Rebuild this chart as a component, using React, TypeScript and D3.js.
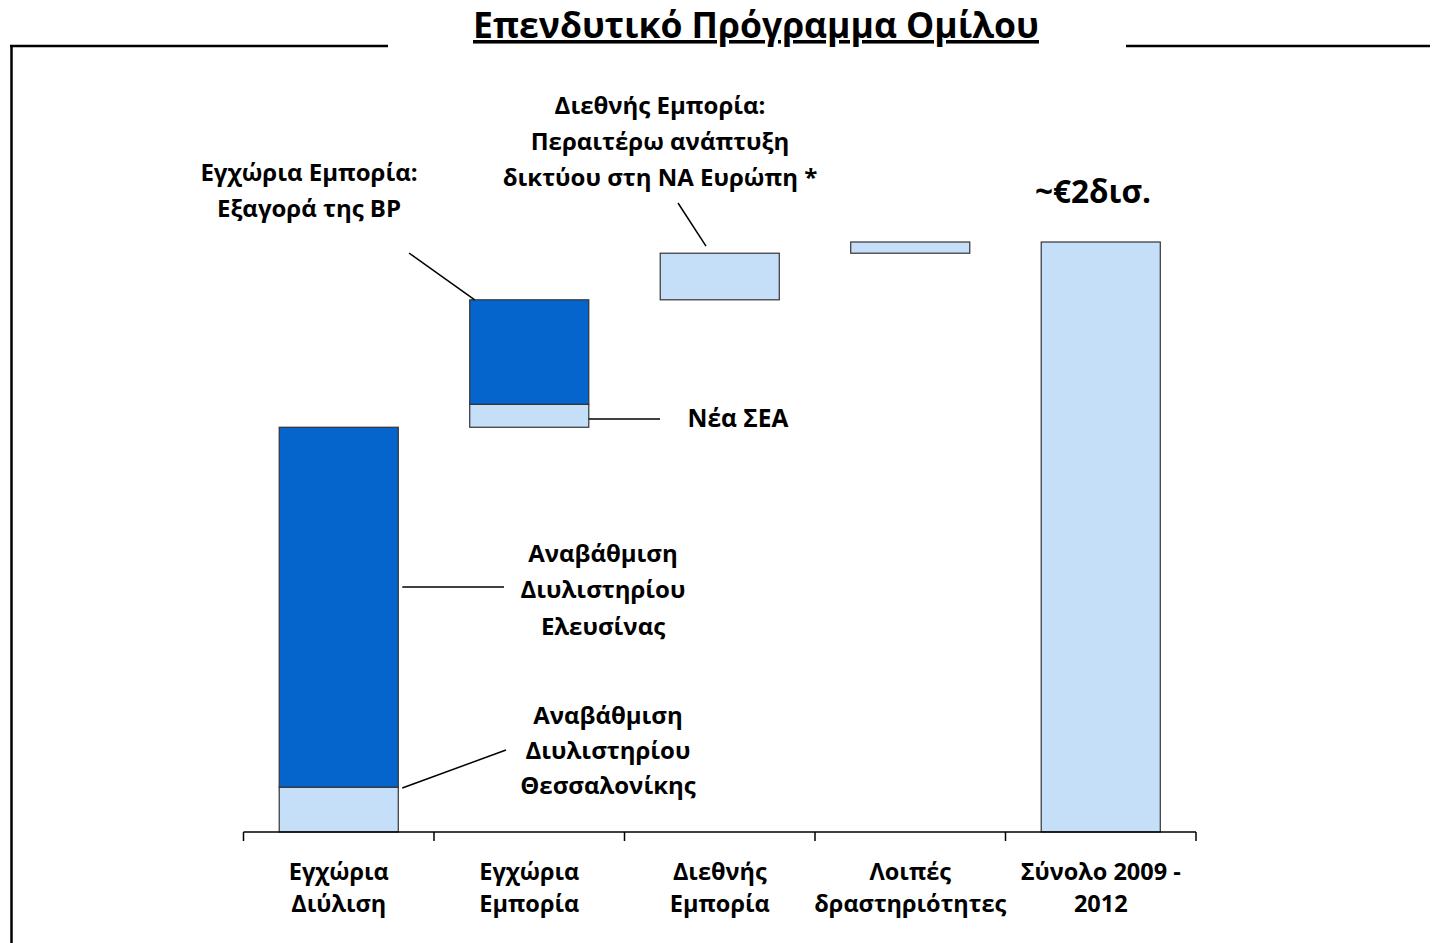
import React, { useEffect, useRef } from 'react';
import * as d3 from 'd3';

// categories on the x axis (each label split into its two lines)
const categories = ['Εγχώρια Διύλιση', 'Εγχώρια Εμπορία', 'Διεθνής Εμπορία', 'Λοιπές δραστηριότητες', 'Σύνολο 2009 - 2012'];
const categoryLines = [
  ['Εγχώρια', 'Διύλιση'],
  ['Εγχώρια', 'Εμπορία'],
  ['Διεθνής', 'Εμπορία'],
  ['Λοιπές', 'δραστηριότητες'],
  ['Σύνολο 2009 -', '2012'],
];

// investment (million €), bottom light segment and top dark segment of each step
const lightValues = [152, 78, 158, 38];
const darkValues = [1220, 354, 0, 0];

const titleText = 'Επενδυτικό Πρόγραμμα Ομίλου';
const totalText = '~€2δισ.';
const noteBP = ['Εγχώρια Εμπορία:', 'Εξαγορά της BP'];
const noteIntl = ['Διεθνής Εμπορία:', 'Περαιτέρω ανάπτυξη', 'δικτύου στη ΝΑ Ευρώπη *'];
const noteSEA = ['Νέα ΣΕΑ'];
const noteElef = ['Αναβάθμιση', 'Διυλιστηρίου', 'Ελευσίνας'];
const noteThess = ['Αναβάθμιση', 'Διυλιστηρίου', 'Θεσσαλονίκης'];

const LIGHT = '#c6dff9';
const DARK = '#0565cd';
const FONT = "'Open Sans', sans-serif";

const App = () => {
  const ref = useRef<SVGSVGElement>(null);

  useEffect(() => {
    const svg = d3.select(ref.current);
    svg.selectAll('*').remove();
    draw(svg);
  }, []);

  return (
    <svg
      ref={ref}
      width={1443}
      height={943}
      style={{ position: 'absolute', left: 0, top: 0, background: '#fff' }}
    />
  );
};

const draw = (svg: any) => {
  const total = d3.sum(lightValues) + d3.sum(darkValues);

  const x = d3.scaleBand().domain(categories).range([243.5, 1196]).padding(0);
  const barW = x.bandwidth() * 0.625;
  const y = d3.scaleLinear().domain([0, 2000]).range([832, 242]);

  // build waterfall segments
  const segs: any[] = [];
  let base = 0;
  lightValues.forEach((lv, i) => {
    segs.push({ cat: categories[i], y0: base, y1: base + lv, fill: LIGHT });
    base += lv;
    if (darkValues[i] > 0) {
      segs.push({ cat: categories[i], y0: base, y1: base + darkValues[i], fill: DARK });
      base += darkValues[i];
    }
  });
  segs.push({ cat: categories[4], y0: 0, y1: total, fill: LIGHT });

  const g = svg.append('g');

  // frame lines
  g.append('line').attr('x1', 10).attr('x2', 388).attr('y1', 46).attr('y2', 46).attr('stroke', '#000').attr('stroke-width', 2.5);
  g.append('line').attr('x1', 1126).attr('x2', 1430).attr('y1', 46).attr('y2', 46).attr('stroke', '#000').attr('stroke-width', 2.5);
  g.append('line').attr('x1', 11.5).attr('x2', 11.5).attr('y1', 45).attr('y2', 943).attr('stroke', '#000').attr('stroke-width', 2.5);

  // title
  g.append('text')
    .attr('x', 756)
    .attr('y', 38)
    .attr('text-anchor', 'middle')
    .attr('font-family', FONT)
    .attr('font-weight', 700)
    .attr('font-size', 35.5)
    .attr('text-decoration', 'underline')
    .text(titleText);

  // bars
  g.selectAll('rect.seg')
    .data(segs)
    .enter()
    .append('rect')
    .attr('class', 'seg')
    .attr('x', (d: any) => (x(d.cat) as number) + (x.bandwidth() - barW) / 2)
    .attr('width', barW)
    .attr('y', (d: any) => y(d.y1))
    .attr('height', (d: any) => y(d.y0) - y(d.y1))
    .attr('fill', (d: any) => d.fill)
    .attr('stroke', '#333')
    .attr('stroke-width', 1.2);

  // x axis
  const axis = g.append('g').attr('transform', 'translate(0,832)');
  axis.append('line').attr('x1', 243.5).attr('x2', 1196).attr('stroke', '#000').attr('stroke-width', 1.5);
  const tickX = categories.map((c) => x(c) as number).concat([1196]);
  axis.selectAll('line.tick')
    .data(tickX)
    .enter()
    .append('line')
    .attr('class', 'tick')
    .attr('x1', (d: number) => d)
    .attr('x2', (d: number) => d)
    .attr('y1', 0)
    .attr('y2', 9)
    .attr('stroke', '#000')
    .attr('stroke-width', 1.5);

  categories.forEach((c, i) => {
    const cx = (x(c) as number) + x.bandwidth() / 2;
    categoryLines[i].forEach((line, j) => {
      g.append('text')
        .attr('x', cx)
        .attr('y', 871 + j * 32)
        .attr('dominant-baseline', 'central')
        .attr('text-anchor', 'middle')
        .attr('font-family', FONT)
        .attr('font-weight', 700)
        .attr('font-size', 23.5)
        .text(line);
    });
  });

  const note = (lines: string[], cx: number, cy: number, lh: number, size: number) => {
    lines.forEach((line, j) => {
      g.append('text')
        .attr('x', cx)
        .attr('y', cy + j * lh)
        .attr('dominant-baseline', 'central')
        .attr('text-anchor', 'middle')
        .attr('font-family', FONT)
        .attr('font-weight', 700)
        .attr('font-size', size)
        .text(line);
    });
  };
  const leader = (x1: number, y1: number, x2: number, y2: number) => {
    g.append('line').attr('x1', x1).attr('y1', y1).attr('x2', x2).attr('y2', y2).attr('stroke', '#000').attr('stroke-width', 1.5);
  };

  const left = (i: number) => (x(categories[i]) as number) + (x.bandwidth() - barW) / 2;
  const right = (i: number) => left(i) + barW;

  // annotations
  note([totalText], 1093, 190, 36, 31.5);
  note(noteBP, 309, 171, 36, 24);
  leader(409, 253, left(1) + 5, y(lightValues[0] + darkValues[0] + lightValues[1] + darkValues[1]));
  note(noteIntl, 660, 104, 36, 24);
  leader(678, 203, 706, y(lightValues[0] + darkValues[0] + lightValues[1] + darkValues[1] + lightValues[2]) - 7);
  note(noteSEA, 738, 417, 36, 24.5);
  leader(right(1), 419, 660, 419);
  note(noteElef, 603, 552, 36.5, 24);
  leader(right(0) + 4, 587, 504, 587);
  note(noteThess, 608, 714, 35, 24);
  leader(right(0) + 4, 788, 506, 750);
};

export default App;
